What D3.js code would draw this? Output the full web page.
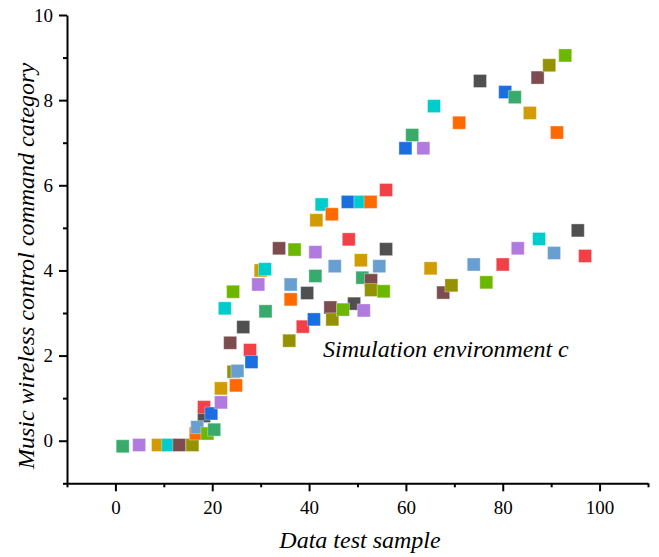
<!DOCTYPE html>
<html>
<head>
<meta charset="utf-8">
<script src="https://cdn.jsdelivr.net/npm/d3@7"></script>
</head>
<body style="margin:0">
<svg id="chart" width="659" height="557" font-family="Liberation Serif"></svg>
<script>
// marker colours, one per point position within a run
var markerColours = ["#38ab6c", "#b07ade", "#d09c00", "#00cccc", "#7c4c4e", "#949200",
                     "#ff6a00", "#505050", "#f24047", "#1a6ee0", "#689fd0", "#6cb800"];

// seven test runs, 12 samples each (x = data test sample, y = command category)
var runX = [
  [1.5, 4.9, 8.8, 10.9, 13.2, 15.9, 16.6, 18.3, 18.3, 19.8, 16.9, 19.0],
  [20.4, 21.8, 21.8, 22.6, 23.7, 24.4, 24.9, 26.4, 27.8, 28.1, 25.2, 24.3],
  [31.0, 29.5, 30.0, 30.9, 33.8, 35.9, 36.2, 39.6, 38.7, 41.0, 36.2, 37.0],
  [41.3, 41.3, 41.5, 42.6, 44.4, 44.8, 44.7, 49.3, 48.2, 48.0, 45.3, 47.0],
  [51.0, 51.3, 50.7, 50.6, 52.8, 52.8, 52.7, 55.9, 55.9, 59.9, 54.5, 55.4],
  [61.3, 63.6, 65.1, 65.8, 67.7, 69.4, 71.0, 75.3, 80.0, 80.5, 74.0, 76.6],
  [82.5, 83.1, 85.6, 87.5, 87.2, 89.6, 91.2, 95.5, 97.0, null, 90.6, 92.9]
];
var runY = [
  [-0.13, -0.1, -0.1, -0.1, -0.1, -0.1, 0.17, 0.58, 0.79, 0.64, 0.32, 0.17],
  [0.26, 0.9, 1.23, 3.11, 2.3, 1.62, 1.3, 2.67, 2.13, 1.85, 1.64, 3.5],
  [3.04, 3.67, 4.0, 4.03, 4.52, 2.35, 3.32, 3.47, 2.68, 2.85, 3.67, 4.49],
  [3.87, 4.43, 5.18, 5.55, 3.13, 2.85, 5.32, 3.22, 4.73, 5.61, 4.1, 3.08],
  [3.83, 3.06, 4.24, 5.61, 3.77, 3.54, 5.61, 4.5, 5.89, 6.87, 4.1, 3.51],
  [7.18, 6.87, 4.05, 7.86, 3.48, 3.65, 7.47, 8.45, 4.14, 8.19, 4.14, 3.72],
  [8.07, 4.52, 7.7, 4.74, 8.53, 8.82, 7.24, 4.94, 4.34, null, 4.41, 9.05]
];

var xMajorTicks = [0, 20, 40, 60, 80, 100];
var xMinorTicks = [-10, 10, 30, 50, 70, 90, 110];
var yMajorTicks = [0, 2, 4, 6, 8, 10];
var yMinorTicks = [-1, 1, 3, 5, 7, 9];

var xTitle = "Data test sample";
var yTitle = "Music wireless control command category";
var note = "Simulation environment c";

var svg = d3.select("#chart");

// scales
var xScale = d3.scaleLinear().domain([-10, 110]).range([67, 648]);
var yScale = d3.scaleLinear().domain([-1, 10]).range([483.3, 15]);

// flatten runs into points, keeping draw order
var points = [];
runX.forEach(function(xs, r) {
  xs.forEach(function(xv, i) {
    if (xv === null) return;
    points.push({x: xv, y: runY[r][i], colour: markerColours[i]});
  });
});

// axes
function styleAxis(g) {
  g.attr("font-family", "Liberation Serif").attr("font-size", 19);
  g.selectAll("path, line").attr("stroke", "#000").attr("stroke-width", 2);
  g.selectAll("text")
    .attr("font-family", "Liberation Serif")
    .attr("font-size", 19)
    .attr("fill", "#000");
}

svg.append("g")
    .attr("transform", "translate(0," + yScale(-1) + ")")
    .call(d3.axisBottom(xScale).tickValues(xMinorTicks).tickSize(4).tickSizeOuter(0).tickFormat(""))
    .call(styleAxis);

svg.append("g")
    .attr("transform", "translate(0," + yScale(-1) + ")")
    .call(d3.axisBottom(xScale).tickValues(xMajorTicks).tickSize(8).tickSizeOuter(0).tickPadding(9))
    .call(styleAxis)
   .select(".domain").remove();

svg.append("g")
    .attr("transform", "translate(" + xScale(-10) + ",0)")
    .call(d3.axisLeft(yScale).tickValues(yMinorTicks).tickSize(4).tickSizeOuter(0).tickFormat(""))
    .call(styleAxis);

svg.append("g")
    .attr("transform", "translate(" + xScale(-10) + ",0)")
    .call(d3.axisLeft(yScale).tickValues(yMajorTicks).tickSize(8).tickSizeOuter(0).tickPadding(6))
    .call(styleAxis)
   .select(".domain").remove();

// points
var markerSize = 13;
svg.append("g")
    .selectAll("rect")
    .data(points)
    .enter()
   .append("rect")
    .attr("x", function(d) { return xScale(d.x) - markerSize / 2; })
    .attr("y", function(d) { return yScale(d.y) - markerSize / 2; })
    .attr("width", markerSize)
    .attr("height", markerSize)
    .attr("fill", function(d) { return d.colour; })
    .attr("stroke", "#fff")
    .attr("stroke-opacity", 0.35)
    .attr("stroke-width", 1);

// titles
function styleTitle(t) {
  t.attr("font-family", "Liberation Serif")
   .attr("font-style", "italic")
   .attr("font-size", 24)
   .attr("fill", "#000");
}

svg.append("text")
    .attr("x", 360)
    .attr("y", 548)
    .attr("text-anchor", "middle")
    .text(xTitle)
    .call(styleTitle);

svg.append("text")
    .attr("transform", "translate(34,266) rotate(-90)")
    .attr("text-anchor", "middle")
    .text(yTitle)
    .call(styleTitle);

svg.append("text")
    .attr("x", 323)
    .attr("y", 357)
    .text(note)
    .call(styleTitle);
</script>
</body>
</html>
